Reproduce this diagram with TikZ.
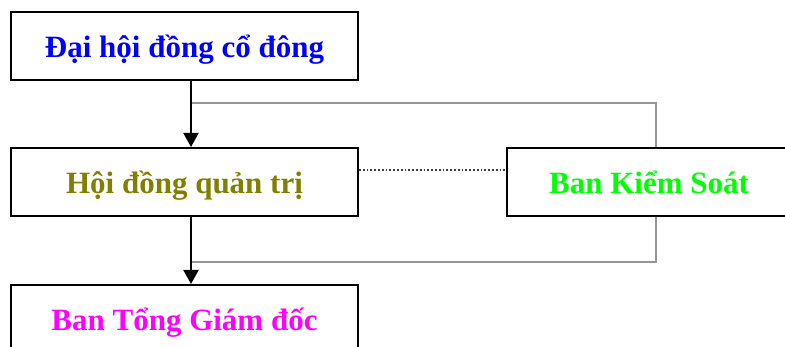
\documentclass[tikz,border=0pt]{standalone}
\usepackage{fontspec}
\setmainfont{Liberation Serif}
\usetikzlibrary{arrows.meta,calc}
\definecolor{cblue}{RGB}{0,0,255}
\definecolor{colive}{RGB}{128,128,0}
\definecolor{cmag}{RGB}{255,0,255}
\definecolor{cgreen}{RGB}{0,255,0}
\definecolor{cgray}{RGB}{150,150,150}
\tikzset{
  orgbox/.style={draw=black, line width=2pt, fill=white, minimum height=68pt, inner sep=0pt, text height=24pt, text depth=0pt, font=\fontsize{31}{34}\selectfont\bfseries},
  arr/.style={line width=2pt, -{Triangle[width=15pt,length=14pt]}},
  grayline/.style={draw=cgray, line width=2pt},
  dotline/.style={draw=black!75, line width=1.8pt, dotted}
}
\begin{document}
\begin{tikzpicture}[x=1pt,y=-1pt]
\useasboundingbox (0,0) rectangle (785,347);
\clip (0,0) rectangle (785,347);
\fill[white] (0,0) rectangle (785,347);
\coordinate (j1) at (191,103);
\coordinate (j2) at (191,262);
\coordinate (r1) at (656,103);
\coordinate (r2) at (656,262);
% gray connectors
\draw[grayline] (j1) -- (r1) -- (r1 |- 0,182);
\draw[grayline] (r2 |- 0,182) -- (r2) -- (j2);
\node[orgbox, minimum width=347pt, text=cblue] (dh) at (184.5,46) {Đại hội đồng cổ đông};
\node[orgbox, minimum width=347pt, text=colive] (hd) at (184.5,182) {Hội đồng quản trị};
\node[orgbox, minimum width=347pt, text=cmag] (tg) at (184.5,319) {Ban Tổng Giám đốc};
\node[orgbox, minimum width=284pt, text=cgreen] (ks) at (649,182) {Ban Kiểm Soát};
\draw[arr] (j1 |- dh.south) -- (j1 |- hd.north);
\draw[arr] (j2 |- hd.south) -- (j2 |- tg.north);
\draw[dotline] ($(hd.east)+(0,-12)$) -- ($(ks.west)+(0,-12)$);
\end{tikzpicture}
\end{document}
